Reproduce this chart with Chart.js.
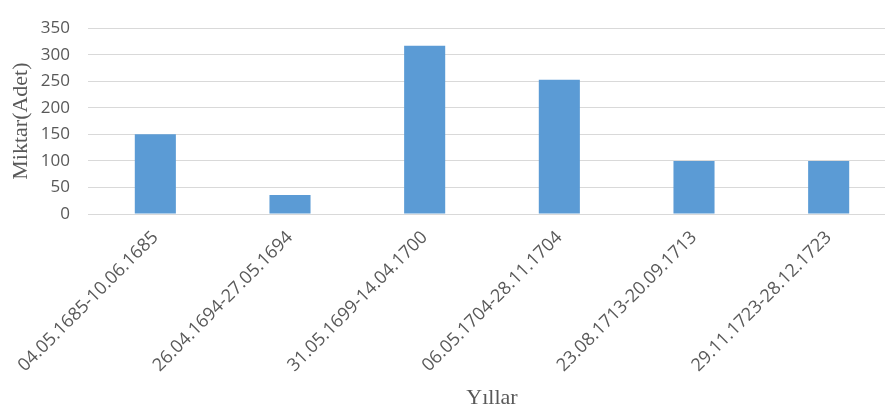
<!DOCTYPE html>
<html>
<head>
<meta charset="utf-8">
<script src="https://cdn.jsdelivr.net/npm/chart.js@4/dist/chart.umd.min.js"></script>
<style>
  html, body { margin: 0; padding: 0; background: #ffffff; overflow: hidden; }
  #wrap { width: 896px; height: 412px; position: relative; }
</style>
</head>
<body>
<div id="wrap"><canvas id="c"></canvas></div>
<script>
// Date ranges of the periods
const categories = [
  '04.05.1685-10.06.1685',
  '26.04.1694-27.05.1694',
  '31.05.1699-14.04.1700',
  '06.05.1704-28.11.1704',
  '23.08.1713-20.09.1713',
  '29.11.1723-28.12.1723'
];
// Quantity per period
const amounts = [150, 36, 317, 253, 100, 100];
// Value axis
const yTicks = [0, 50, 100, 150, 200, 250, 300, 350];
const yTitle = 'Miktar(Adet)';
const xTitle = 'Yıllar';

const tickFont = { family: "'Open Sans', 'Noto Sans', sans-serif", size: 17 };
const xTickFont = { family: "'Open Sans', 'Noto Sans', sans-serif", size: 18 };
const titleFont = { family: "'Liberation Serif', 'Times New Roman', serif", size: 22 };

new Chart(document.getElementById('c'), {
  type: 'bar',
  data: {
    labels: categories,
    datasets: [{
      data: amounts,
      backgroundColor: '#5b9bd5',
      borderWidth: 0,
      categoryPercentage: 1,
      barPercentage: 0.305
    }]
  },
  options: {
    responsive: true,
    maintainAspectRatio: false,
    animation: false,
    layout: { padding: { top: 15, left: 0, right: 0, bottom: 0 } },
    plugins: { legend: { display: false }, tooltip: { enabled: false } },
    scales: {
      x: {
        grid: { display: false, drawTicks: false },
        border: { display: false },
        ticks: {
          color: '#595959',
          font: xTickFont,
          minRotation: 45,
          maxRotation: 45,
          autoSkip: false,
          padding: 13
        },
        title: {
          display: true,
          text: xTitle,
          color: '#595959',
          font: titleFont,
          padding: { top: 4, bottom: 1 }
        },
        afterFit: (s) => { s.height = 198; }
      },
      y: {
        min: 0,
        max: 350,
        afterBuildTicks: (s) => { s.ticks = yTicks.map(v => ({ value: v })); },
        grid: { color: '#d9d9d9', lineWidth: 1, drawTicks: false },
        border: { display: false },
        ticks: {
          color: '#595959',
          font: tickFont,
          padding: 18
        },
        title: {
          display: true,
          text: yTitle,
          color: '#595959',
          font: titleFont,
          padding: { top: 8, bottom: 0 }
        },
        afterFit: (s) => { s.width = 88; }
      }
    }
  }
});
</script>
</body>
</html>
